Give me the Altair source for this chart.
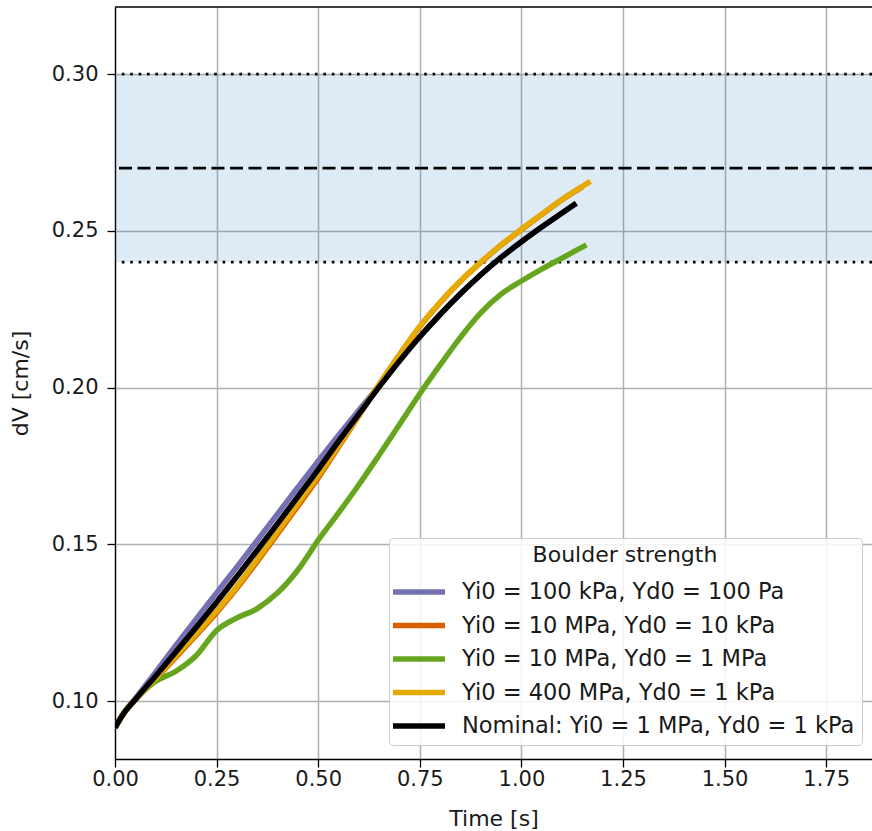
import altair as alt
import pandas as pd

# ---- data ----
series_names = [
    "Yi0 = 100 kPa, Yd0 = 100 Pa",
    "Yi0 = 10 MPa, Yd0 = 10 kPa",
    "Yi0 = 10 MPa, Yd0 = 1 MPa",
    "Yi0 = 400 MPa, Yd0 = 1 kPa",
    "Nominal: Yi0 = 1 MPa, Yd0 = 1 kPa",
]
series_colors = ["#7570b3", "#d95f02", "#66a61e", "#e6ab02", "#000000"]

t_base = [0, 0.02, 0.05, 0.1, 0.15, 0.2, 0.25, 0.3, 0.35, 0.4, 0.45, 0.5,
          0.55, 0.6, 0.65, 0.7, 0.75, 0.8, 0.85, 0.9, 0.95, 1.0, 1.05, 1.1]

time_purple = t_base + [1.135]
dv_purple = [0.0915, 0.0958, 0.1008, 0.1092, 0.1178, 0.1262, 0.1345, 0.1428,
             0.1512, 0.1597, 0.1682, 0.1766, 0.1848, 0.1928, 0.2006, 0.2086,
             0.2162, 0.2233, 0.2299, 0.2360, 0.2415, 0.2465, 0.2512, 0.2557, 0.2587]

time_orange = t_base + [1.15]
dv_orange = [0.0915, 0.0958, 0.1003, 0.1070, 0.1140, 0.1210, 0.1282, 0.1360,
             0.1445, 0.1533, 0.1622, 0.1712, 0.1810, 0.1910, 0.2009, 0.2104,
             0.2194, 0.2271, 0.2339, 0.2399, 0.2454, 0.2504, 0.2552, 0.2599, 0.2640]

time_green = t_base + [1.16]
dv_green = [0.0915, 0.0958, 0.1005, 0.1063, 0.1095, 0.1145, 0.1225, 0.1265,
            0.1295, 0.1345, 0.1418, 0.1513, 0.1600, 0.1690, 0.1785, 0.1882,
            0.1980, 0.2072, 0.2160, 0.2238, 0.2298, 0.2340, 0.2378, 0.2413, 0.2455]

time_yellow = t_base + [1.17]
dv_yellow = [0.0915, 0.0958, 0.1005, 0.1073, 0.1145, 0.1215, 0.1287, 0.1366,
             0.1452, 0.1540, 0.1630, 0.1720, 0.1815, 0.1912, 0.2010, 0.2105,
             0.2195, 0.2272, 0.2340, 0.2400, 0.2455, 0.2505, 0.2553, 0.2600, 0.2658]

time_black = t_base + [1.135]
dv_black = [0.0915, 0.0958, 0.1005, 0.1080, 0.1157, 0.1235, 0.1315, 0.1397,
            0.1481, 0.1566, 0.1652, 0.1738, 0.1828, 0.1915, 0.2002, 0.2085,
            0.2162, 0.2233, 0.2299, 0.2360, 0.2415, 0.2465, 0.2512, 0.2557, 0.2588]

band_low, band_high = 0.24, 0.30
target_mid = 0.27

x_ticks = [0, 0.25, 0.5, 0.75, 1.0, 1.25, 1.5, 1.75]
y_ticks = [0.10, 0.15, 0.20, 0.25, 0.30]
x_domain = [0, 1.8627]
y_domain = [0.0815, 0.3214]

# ---- build tables ----
times = [time_purple, time_orange, time_green, time_yellow, time_black]
dvs = [dv_purple, dv_orange, dv_green, dv_yellow, dv_black]
rows = []
for name, ts, vs in zip(series_names, times, dvs):
    for t, v in zip(ts, vs):
        rows.append({"t": t, "dv": v, "series": name})
df = pd.DataFrame(rows)

W, H = 757, 752
xscale = alt.Scale(domain=x_domain, nice=False, zero=False)
yscale = alt.Scale(domain=y_domain, nice=False, zero=False)
y_axis = alt.Axis(values=y_ticks, format=".2f", title="dV [cm/s]", labelPadding=9,
                  titlePadding=19, labelFlush=False)
x_axis = alt.Axis(values=x_ticks, format=".2f", title="Time [s]", labelPadding=1,
                  titlePadding=19, labelFlush=False)

band = alt.Chart(pd.DataFrame({"lo": [band_low], "hi": [band_high]})).mark_rect(
    color="#1f77b4", opacity=0.15
).encode(
    y=alt.Y("lo:Q", scale=yscale, axis=y_axis),
    y2="hi:Q",
    x=alt.value(0),
    x2=alt.value(W),
)

dotted = alt.Chart(pd.DataFrame({"y": [band_low, band_high]})).mark_rule(
    color="black", strokeWidth=2.6, strokeDash=[2.6, 5.8]
).encode(y=alt.Y("y:Q", scale=yscale, axis=y_axis))

dashed = alt.Chart(pd.DataFrame({"y": [target_mid]})).mark_rule(
    color="black", strokeWidth=2.8, strokeDash=[13, 5.5]
).encode(y=alt.Y("y:Q", scale=yscale, axis=y_axis))

lines = alt.Chart(df).mark_line(interpolate="monotone", clip=True, strokeCap="butt").encode(
    x=alt.X("t:Q", scale=xscale, axis=x_axis),
    y=alt.Y("dv:Q", scale=yscale, axis=y_axis),
    color=alt.Color(
        "series:N",
        scale=alt.Scale(domain=series_names, range=series_colors),
        legend=alt.Legend(
            title="Boulder strength",
            orient="none",
            legendX=274,
            legendY=531,
            symbolType="M-2,0H2",
            symbolSize=676,
            symbolStrokeWidth=5.5,
            symbolOffset=7,
            labelFontSize=22.5,
            titleFontSize=22,
            titleFontWeight="normal",
            titleAnchor="middle",
            titleLimit=800,
            fillColor="rgba(255,255,255,0.85)",
            strokeColor="#cccccc",
            cornerRadius=4,
            padding=7,
            rowPadding=5.5,
            labelOffset=27,
            titlePadding=9,
            labelLimit=800,
            labelColor="#1a1a1a",
            titleColor="#1a1a1a",
        ),
    ),
    strokeWidth=alt.StrokeWidth(
        "series:N",
        scale=alt.Scale(domain=series_names, range=[5.5, 5.5, 5.5, 5.5, 6.5]),
        legend=None,
    ),
)

top_border = alt.Chart(pd.DataFrame({"a": [0]})).mark_rule(
    color="black", strokeWidth=1.3
).encode(y=alt.value(0), x=alt.value(0), x2=alt.value(W))

chart = alt.layer(band, dotted, dashed, lines, top_border).properties(
    width=W,
    height=H,
    padding={"left": 115, "top": 7, "right": 0, "bottom": 72},
    autosize="none",
).configure(
    font="DejaVu Sans",
).configure_view(
    stroke=None
).configure_axis(
    labelFontSize=21,
    titleFontSize=22,
    titleFontWeight="normal",
    labelColor="#1a1a1a",
    titleColor="#1a1a1a",
    domainColor="black",
    domainWidth=1.3,
    tickColor="black",
    tickWidth=1.3,
    tickSize=8,
    gridColor="#b0b0b0",
    gridWidth=1.5,
)

chart.save("out.html", embed_options={"renderer": "svg", "actions": False})
